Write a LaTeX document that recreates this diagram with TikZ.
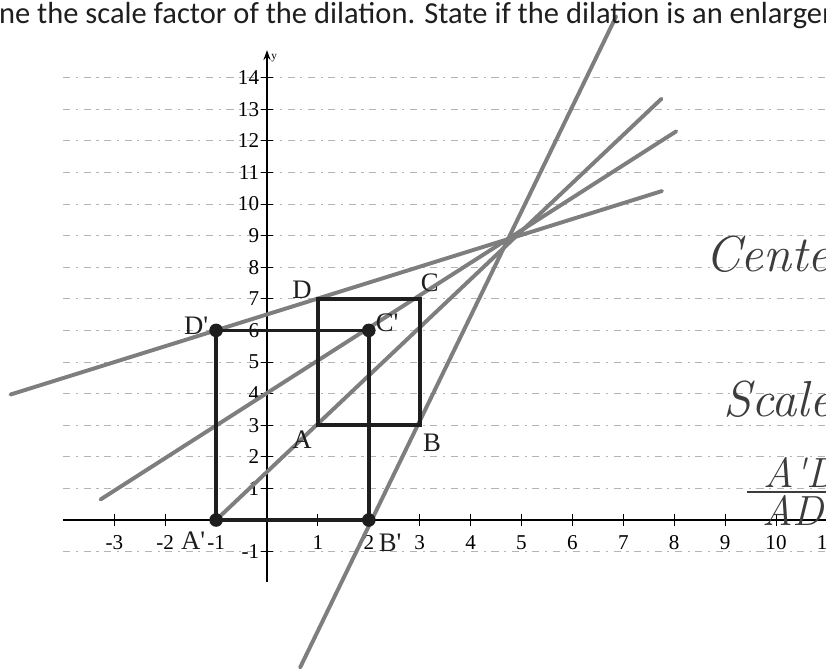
\documentclass[tikz,border=0pt]{standalone}
\usepackage{fontspec}
\newfontfamily\ptfont{Liberation Serif}
\newfontfamily\titlefont{Carlito}
\usetikzlibrary{arrows.meta,positioning}
\definecolor{lapiz}{HTML}{7E7E7E}
\definecolor{tinta}{HTML}{1E1E1E}
\definecolor{renglon}{HTML}{B4B4B4}
\definecolor{pluma}{HTML}{3C3C3C}
\newcommand{\prm}{\textquotesingle}

\begin{document}
\begin{tikzpicture}[x=1.2725cm, y=0.79cm,
    renglon/.style={draw=renglon, line width=0.5pt, dash pattern=on 5pt off 4pt on 1.5pt off 4pt},
    eje/.style={draw=black, line width=1.1pt},
    marca/.style={draw=black, line width=0.7pt},
    recta/.style={draw=lapiz, line width=2.8pt, line cap=round},
    lado/.style={draw=tinta, line width=2.6pt},
    punto/.style={circle, fill=tinta, minimum size=0.34cm, inner sep=0pt},
    etiq/.style={font=\ptfont\fontsize{19}{21}\selectfont, text=tinta, inner sep=0pt},
    num/.style={font=\ptfont\fontsize{15}{17}\selectfont, inner sep=0pt},
    mano/.style={font=\itshape\fontsize{36}{40}\selectfont, text=pluma, inner sep=0pt, anchor=base west}
  ]
  \useasboundingbox (-5.2456,-4.715) rectangle (10.982,16.456);
  \clip (-5.2456,-4.715) rectangle (10.982,16.456);

  % renglones del papel
  \foreach \k in {-1,1,2,...,14}
    \draw[renglon] (-4,\k) -- (11,\k);

  % ejes
  \draw[eje] (-4.0,0) -- (11,0);
  \draw[eje, -{Stealth[length=7pt,width=5pt]}] (0,-1.96) -- (0,14.87);
  \node[font=\ptfont\footnotesize, inner sep=0pt] (ylab) at (0.14,14.62) {y};

  % marcas y numeros
  \foreach \i in {-3,-2,-1,1,2,...,11}{
    \draw[marca] (\i,0) ++(0,4pt) -- ++(0,-8pt);
    \node[num] (nx\i) at (\i,-0.72) {\i};
  }
  \foreach \j in {-1,1,2,...,14}{
    \draw[marca] (0,\j) ++(-4pt,0) -- ++(8pt,0);
    \node[num, anchor=east] (ny\j) at (-0.15,\j) {\j};
  }

  % rectas por el centro de la dilatacion
  \coordinate (r1i) at (-5.04,3.97);  \coordinate (r1f) at (7.76,10.41);
  \coordinate (r2i) at (-3.27,0.65);  \coordinate (r2f) at (8.04,12.3);
  \coordinate (r3i) at (-1,0);        \coordinate (r3f) at (7.75,13.33);
  \coordinate (r4i) at (0.65,-4.67);  \coordinate (r4f) at (6.86,15.94);
  \draw[recta] (r1i) -- (r1f);
  \draw[recta] (r2i) -- (r2f);
  \draw[recta] (r3i) -- (r3f);
  \draw[recta] (r4i) -- (r4f);

  % figura original
  \coordinate (A) at (1,3);
  \coordinate (B) at (3,3);
  \coordinate (C) at (3,7);
  \coordinate (D) at (1,7);
  \draw[lado] (A) -- (B) -- (C) -- (D) -- cycle;

  % imagen
  \node[punto] (Ap) at (-1,0) {};
  \node[punto] (Bp) at (2,0) {};
  \node[punto] (Cp) at (2,6) {};
  \node[punto] (Dp) at (-1,6) {};
  \draw[lado] (Ap.center) -- (Bp.center) -- (Cp.center) -- (Dp.center) -- cycle;

  % etiquetas
  \node[etiq] (lA) at (0.69,2.53) {A};
  \node[etiq] (lB) at (3.24,2.44) {B};
  \node[etiq] (lC) at (3.2,7.5) {C};
  \node[etiq] (lD) at (0.69,7.3) {D};
  \node[etiq] (lAp) at (-1.45,-0.66) {A\prm};
  \node[etiq] (lBp) at (2.42,-0.73) {B\prm};
  \node[etiq] (lCp) at (2.36,6.23) {C\prm};
  \node[etiq] (lDp) at (-1.39,6.14) {D\prm};

  % enunciado
  \node[font=\titlefont\fontsize{21.7}{24}\selectfont, text=tinta, anchor=base west, inner sep=0pt] (enunciado) at (-5.27,15.70) {ne the scale factor of the dilation. State if the dilation is an enlargement};

  % notas a mano
  \node[mano] (centro) at (8.6,7.85) {Center};
  \node[mano] (escala) at (8.96,3.26) {Scale};
  \node[mano, font=\itshape\fontsize{30}{32}\selectfont] (numer) at (9.74,1.04) {A\prm D\prm};
  \node[mano, font=\itshape\fontsize{30}{32}\selectfont] (denom) at (9.72,-0.16) {AD};
  \draw[draw=pluma, line width=1.6pt] (9.43,0.89) -- (11,0.89);
\end{tikzpicture}
\end{document}
